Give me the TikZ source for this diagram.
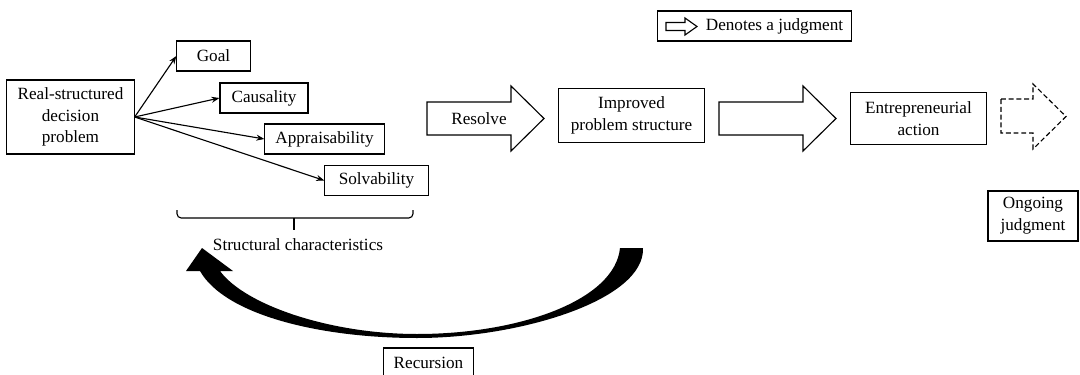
\documentclass[tikz,border=0pt]{standalone}
\usepackage{fontspec}
\setmainfont{Liberation Serif}
\usepackage{tikz}
\usetikzlibrary{positioning}
\usetikzlibrary{arrows.meta}
\tikzset{
    every picture/.append style={
        >={Stealth[length=2mm]}
    }
}
\tikzset{
    box/.style={shape=rectangle,draw=black,line width=0.8pt,align=center,inner sep=1pt},
    bigarrow/.style={draw=black,line width=0.8pt,fill=white,line join=miter},
}

\begin{document}
\begin{tikzpicture}[x=0.025cm,y=-0.025cm,font=\fontsize{12.2}{15.5}\selectfont]
		\useasboundingbox (0,0) rectangle (1080,375);
		% problem and its characteristics
		\node[box,minimum width=3.18cm,minimum height=1.85cm] (problem) at (70.5,117) {Real-structured\\decision\\problem};
		\node[box,minimum width=1.83cm,minimum height=0.75cm] (goal) at (213.5,56) {Goal};
		\node[box,minimum width=2.2cm,minimum height=0.75cm] (causality) at (264,98) {Causality};
		\node[box,minimum width=2.98cm,minimum height=0.75cm] (apprais) at (324.5,139) {Appraisability};
		\node[box,minimum width=2.58cm,minimum height=0.73cm] (solv) at (376.5,180.5) {Solvability};
		
		\path [->,line width=0.8pt] (problem.east) edge (goal.west);
		\path [->,line width=0.8pt] (problem.east) edge (causality.west);
		\path [->,line width=0.8pt] (problem.east) edge (apprais.west);
		\path [->,line width=0.8pt] (problem.east) edge (solv.west);
		
		\draw[line width=0.8pt,rounded corners=3pt] (177,210) -- (177,218) -- (413,218) -- (413,210);
		\draw[line width=0.8pt] (294,218) -- (294,230);
		\node (chars) at (298,245) {Structural characteristics};
		
		% judgments
		\draw[bigarrow] (427,102) -- (511,102) -- (511,86) -- (544,118.5) -- (511,151) -- (511,135) -- (427,135) -- cycle;
		\node (resolve) at (479,118.5) {Resolve};
		\node[box,minimum width=3.63cm,minimum height=1.33cm] (improved) at (631.5,115.5) {Improved\\problem structure};
		\draw[bigarrow] (719,102) -- (803,102) -- (803,86) -- (836,118.5) -- (803,151) -- (803,135) -- (719,135) -- cycle;
		\node[box,minimum width=3.38cm,minimum height=1.28cm] (action) at (918.5,118.5) {Entrepreneurial\\action};
		\draw[bigarrow,dash pattern=on 3.5pt off 2pt] (1001,99) -- (1033,99) -- (1033,84) -- (1066,116.5) -- (1033,149) -- (1033,133) -- (1001,133) -- cycle;
		\node[box,minimum width=2.25cm,minimum height=1.25cm] (ongoing) at (1033,216) {Ongoing\\judgment};
		
		% legend
		\node[box,minimum width=4.83cm,minimum height=0.75cm] (legend) at (754.5,26) {};
		\draw[bigarrow] (666,22.5) -- (685,22.5) -- (685,18) -- (697,26.5) -- (685,35) -- (685,30.5) -- (666,30.5) -- cycle;
		\node (legendtext) at (774.5,26) {Denotes a judgment};
		
		% recursion
		\fill[black] (643,248) .. controls (645,300) and (520,338) .. (417,338)
			.. controls (320,338) and (225,315) .. (200,271) -- (186,271) -- (202,248) -- (233,271) -- (220,271)
			.. controls (245,305) and (330,334) .. (417,334)
			.. controls (520,334) and (615,300) .. (620,248) -- cycle;
		\node[box,minimum width=2.23cm,minimum height=0.75cm] (recursion) at (428.5,363) {Recursion};
		\end{tikzpicture}
\end{document}
